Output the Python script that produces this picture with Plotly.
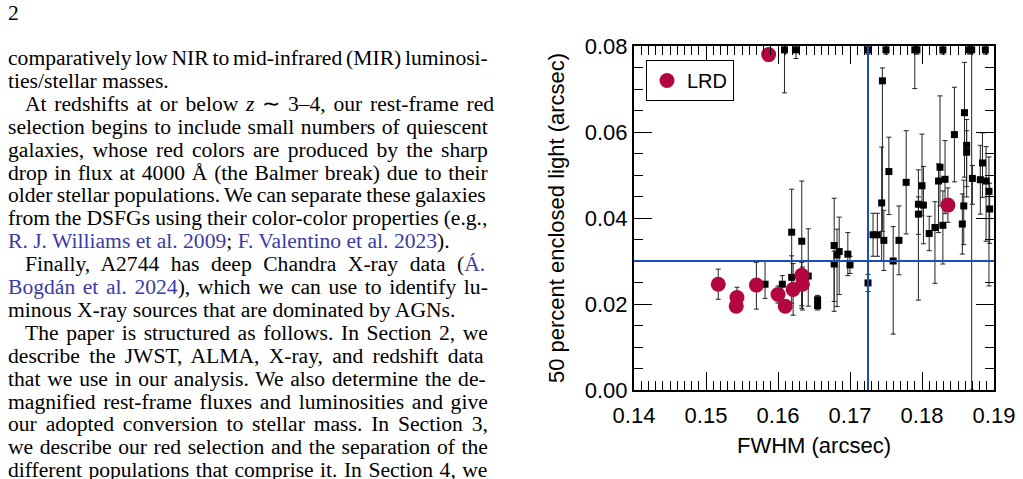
import plotly.graph_objects as go

# ---------------- data ----------------
# Black squares: full sample
fwhm_all = [0.1609, 0.1625, 0.1725, 0.1750, 0.1790, 0.1793, 0.1829, 0.1866, 0.1869, 0.1888,
            0.1745, 0.1859, 0.1862, 0.1862, 0.1845, 0.1825, 0.1884, 0.1754, 0.1778, 0.1823,
            0.1832, 0.1870, 0.1881, 0.1889, 0.1800, 0.1893, 0.1744, 0.1795, 0.1802, 0.1795,
            0.1858, 0.1894, 0.1732, 0.1738, 0.1747, 0.1768, 0.1760, 0.1810, 0.1818, 0.1829,
            0.1856, 0.1725, 0.1678, 0.1682, 0.1685, 0.1678, 0.1697, 0.1700, 0.1619, 0.1633,
            0.1619, 0.1606, 0.1642, 0.1655, 0.1655, 0.1582]
r50_all = [0.0791, 0.0791, 0.0791, 0.0791, 0.0791, 0.0791, 0.0791, 0.0791, 0.0791, 0.0791,
           0.0719, 0.0645, 0.0569, 0.0553, 0.0594, 0.0518, 0.0528, 0.0508, 0.0483, 0.0486,
           0.0490, 0.0492, 0.0489, 0.0486, 0.0475, 0.0462, 0.0435, 0.0432, 0.0430, 0.0409,
           0.0428, 0.0421, 0.0361, 0.0361, 0.0348, 0.0348, 0.0300, 0.0364, 0.0378, 0.0383,
           0.0386, 0.0249, 0.0336, 0.0314, 0.0322, 0.0293, 0.0316, 0.0291, 0.0367, 0.0346,
           0.0262, 0.0246, 0.0265, 0.0210, 0.0196, 0.0246]
r50_err_plus = [0.001, 0.001, 0.001, 0.001, 0.001, 0.001, 0.001, 0.001, 0.001, 0.001,
                0.003, 0.0117, 0.006, 0.005, 0.011, 0.0166, 0.007, 0.008, 0.012, 0.004,
                0.009, 0.003, 0.008, 0.008, 0.012, 0.008, 0.013, 0.008, 0.009, 0.004,
                0.006, 0.006, 0.005, 0.005, 0.007, 0.008, 0.008, 0.004, 0.006, 0.008,
                0.007, 0.002, 0.011, 0.006, 0.008, 0.003, 0.005, 0.002, 0.010, 0.014,
                0.005, 0.002, 0.011, 0.001, 0.001, 0.0053]
r50_err_minus = [0.010, 0.002, 0.001, 0.001, 0.009, 0.001, 0.001, 0.001, 0.0791, 0.001,
                 0.035, 0.015, 0.012, 0.008, 0.011, 0.009, 0.008, 0.010, 0.012, 0.012,
                 0.008, 0.006, 0.008, 0.014, 0.007, 0.022, 0.0136, 0.007, 0.009, 0.020,
                 0.009, 0.008, 0.005, 0.005, 0.007, 0.008, 0.017, 0.004, 0.013, 0.009,
                 0.007, 0.002, 0.013, 0.012, 0.010, 0.011, 0.005, 0.002, 0.010, 0.015,
                 0.006, 0.002, 0.007, 0.001, 0.001, 0.0033]

# Red circles: LRDs
fwhm_lrd = [0.1517, 0.1543, 0.1542, 0.1570, 0.1600, 0.1610, 0.1621, 0.1633, 0.1634, 0.1587, 0.1836]
r50_lrd = [0.0246, 0.0215, 0.0195, 0.0244, 0.0222, 0.0195, 0.0234, 0.0267, 0.0246, 0.0780, 0.0430]
lrd_err_plus = [0.0035, 0.0024, 0.001, 0.0053, 0.002, 0.001, 0.006, 0.003, 0.004, 0.001, 0.004]
lrd_err_minus = [0.0035, 0.001, 0.001, 0.0056, 0.002, 0.001, 0.006, 0.0077, 0.006, 0.001, 0.004]

# selection cuts
FWHM_CUT = 0.1725
R50_CUT = 0.030

x_ticks = [0.14, 0.15, 0.16, 0.17, 0.18, 0.19]
x_ticklabels = ["0.14", "0.15", "0.16", "0.17", "0.18", "0.19"]
y_ticks = [0.00, 0.02, 0.04, 0.06, 0.08]
y_ticklabels = ["0.00", "0.02", "0.04", "0.06", "0.08"]

# ---------------- page text (left column) ----------------
BLUE_LINK = "#3b3ba3"
LINK = "color:" + BLUE_LINK
ITAL = "font-style:italic"
# (segments, indented, justified)
page_lines = [
    ([("comparatively low NIR to mid-infrared (MIR) luminosi-", "")], False, True),
    ([("ties/stellar masses.", "")], False, False),
    ([("At redshifts at or below ", ""), ("z", ITAL), (" \u223c 3\u20134, our rest-frame red", "")], True, True),
    ([("selection begins to include small numbers of quiescent", "")], False, True),
    ([("galaxies, whose red colors are produced by the sharp", "")], False, True),
    ([("drop in flux at 4000 \u00c5 (the Balmer break) due to their", "")], False, True),
    ([("older stellar populations. We can separate these galaxies", "")], False, True),
    ([("from the DSFGs using their color-color properties (e.g.,", "")], False, True),
    ([("R. J. Williams et al. 2009", LINK), ("; ", ""), ("F. Valentino et al. 2023", LINK), (").", "")], False, False),
    ([("Finally, A2744 has deep Chandra X-ray data (", ""), ("\u00c1.", LINK)], True, True),
    ([("Bogd\u00e1n et al. 2024", LINK), ("), which we can use to identify lu-", "")], False, True),
    ([("minous X-ray sources that are dominated by AGNs.", "")], False, False),
    ([("The paper is structured as follows. In Section 2, we", "")], True, True),
    ([("describe the JWST, ALMA, X-ray, and redshift data", "")], False, True),
    ([("that we use in our analysis. We also determine the de-", "")], False, True),
    ([("magnified rest-frame fluxes and luminosities and give", "")], False, True),
    ([("our adopted conversion to stellar mass. In Section 3,", "")], False, True),
    ([("we describe our red selection and the separation of the", "")], False, True),
    ([("different populations that comprise it. In Section 4, we", "")], False, True),
]

# Times-like advance widths (1/1000 em) for justification
_W = dict(zip("abcdefghijklmnopqrstuvwxyz",
              [444, 500, 444, 500, 444, 333, 500, 500, 278, 278, 500, 278, 778, 500, 500, 500, 500,
               333, 389, 278, 500, 500, 722, 500, 500, 444]))
_W.update(dict(zip("ABCDEFGHIJKLMNOPQRSTUVWXYZ",
                   [722, 667, 667, 722, 611, 556, 722, 722, 333, 389, 722, 611, 889, 722, 722, 556,
                    722, 667, 556, 611, 722, 722, 944, 722, 722, 611])))
_W.update({d: 500 for d in "0123456789"})
_W.update({" ": 250, ".": 250, ",": 250, ";": 278, ":": 278, "-": 333, "(": 333, ")": 333,
           "/": 278, "\u2013": 500, "\u223c": 548, "\u00c5": 722, "\u00c1": 722, "\u00e1": 444})


def seg_width(text, style):
    if style == ITAL:
        return sum(389 if c == "z" else _W.get(c, 500) for c in text)
    return sum(_W.get(c, 500) for c in text)


# ---------------- layout geometry ----------------
W, H = 1023, 479
L, R, T, B = 634, 994, 46, 390
TEXT_FS = 21.6
TEXT_LEFT, TEXT_INDENT, TEXT_RIGHT = 8, 25, 488
TEXT_XFIX = -2               # annotation box padding
LINE0, LINE_STEP = 58, 22.9


def px_x(px):
    return (px - L) / (R - L)


def px_y(py):
    return (B - py) / (B - T)


def text_ann(text, left_px, center_py):
    # anchored at the plot's left/bottom corner, placed with pixel shifts
    return dict(text=text, x=0, y=0, xref="paper", yref="paper",
                xshift=left_px - L + TEXT_XFIX, yshift=B - center_py,
                xanchor="left", yanchor="middle", showarrow=False, align="left",
                font=dict(family="Liberation Serif", size=TEXT_FS, color="black"))


fig = go.Figure()

fig.add_trace(go.Scatter(
    x=fwhm_all, y=r50_all, mode="markers", showlegend=False,
    marker=dict(symbol="square", size=7, color="black"),
    error_y=dict(type="data", symmetric=False, array=r50_err_plus, arrayminus=r50_err_minus,
                 color="#222222", thickness=1, width=2.5),
))

fig.add_trace(go.Scatter(
    x=fwhm_lrd, y=r50_lrd, mode="markers", name="LRD",
    marker=dict(symbol="circle", size=15, color="#b3063e"),
    error_y=dict(type="data", symmetric=False, array=lrd_err_plus, arrayminus=lrd_err_minus,
                 color="#222222", thickness=1, width=2.5),
))

fig.add_shape(type="line", xref="x", yref="paper", x0=FWHM_CUT, x1=FWHM_CUT, y0=0, y1=1,
              line=dict(color="#1a4db5", width=2))
fig.add_shape(type="line", xref="paper", yref="y", x0=0, x1=1, y0=R50_CUT, y1=R50_CUT,
              line=dict(color="#1a4db5", width=2))

annotations = [text_ann("2", TEXT_LEFT, 13)]
for i, (segs, indented, justified) in enumerate(page_lines):
    left = TEXT_INDENT if indented else TEXT_LEFT
    ws = 0.0
    if justified:
        natural = sum(seg_width(t, s) for t, s in segs) / 1000.0 * TEXT_FS
        nsp = sum(t.count(" ") for t, s in segs)
        ws = (TEXT_RIGHT - left - natural) / max(nsp, 1)
    parts = []
    for t, s in segs:
        style = f"word-spacing:{ws:.2f}px"
        if s:
            style += ";" + s
        parts.append(f"<span style='{style}'>{t}</span>")
    annotations.append(text_ann("".join(parts), left, LINE0 + i * LINE_STEP))

axis_font = dict(family="Liberation Sans", size=22, color="black")

fig.update_layout(
    width=W, height=H,
    margin=dict(l=L, r=W - R, t=T, b=H - B, autoexpand=False),
    paper_bgcolor="white", plot_bgcolor="white",
    font=axis_font,
    annotations=annotations,
    legend=dict(x=px_x(646), y=px_y(60), xanchor="left", yanchor="top",
                bordercolor="black", borderwidth=1, bgcolor="white",
                font=dict(family="Liberation Sans", size=20, color="black"),
                itemwidth=30, tracegroupgap=0),
    xaxis=dict(range=[0.14, 0.19], tickmode="array", tickvals=x_ticks, ticktext=x_ticklabels,
               ticks="inside", ticklen=18, tickwidth=1, tickcolor="black",
               minor=dict(dtick=0.001, ticks="inside", ticklen=9, tickwidth=1, tickcolor="black"),
               showline=True, linewidth=2, linecolor="black", mirror="allticks",
               showgrid=False, zeroline=False, ticklabelstandoff=5,
               title=dict(text="FWHM (arcsec)", font=axis_font, standoff=10),
               tickfont=axis_font),
    yaxis=dict(range=[0.0, 0.08], tickmode="array", tickvals=y_ticks, ticktext=y_ticklabels,
               ticks="inside", ticklen=18, tickwidth=1, tickcolor="black",
               minor=dict(dtick=0.005, ticks="inside", ticklen=9, tickwidth=1, tickcolor="black"),
               showline=True, linewidth=2, linecolor="black", mirror="allticks",
               showgrid=False, zeroline=False,
               title=dict(text="50 percent enclosed light (arcsec)", font=axis_font, standoff=14),
               tickfont=axis_font),
)

fig.write_html("out.html")
